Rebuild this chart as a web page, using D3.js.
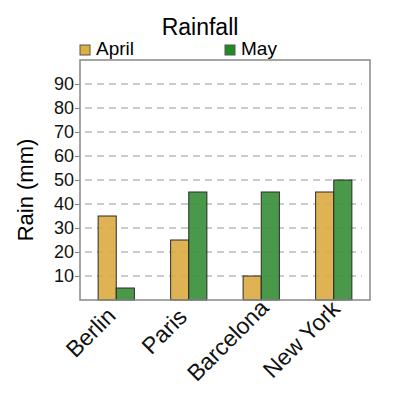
<!DOCTYPE html>
<html>
<head>
<meta charset="utf-8">
<script src="https://cdn.jsdelivr.net/npm/d3@7"></script>
<style>
  body { margin: 0; background: #fff; }
</style>
</head>
<body>
<svg id="chart"></svg>
<script>
const cities = ["Berlin", "Paris", "Barcelona", "New York"];
const months = ["April", "May"];
const april = [35, 25, 10, 45];
const may = [5, 45, 45, 50];
const yTicks = [10, 20, 30, 40, 50, 60, 70, 80, 90];

const legendColors = ["#ddb03f", "#1f8c1f"];
const barColors = ["#dcad44", "#3b8f3b"];

const width = 400, height = 400;
const margin = { top: 60, right: 30, bottom: 100, left: 80 };

const svg = d3.select("#chart")
    .attr("width", width)
    .attr("height", height)
    .style("font-family", "Liberation Sans, Arial, sans-serif");

const x = d3.scaleBand()
    .domain(cities)
    .range([margin.left, width - margin.right])
    .paddingInner(0.5)
    .paddingOuter(0.25);

const xSub = d3.scaleBand()
    .domain(months)
    .range([0, x.bandwidth()]);

const y = d3.scaleLinear()
    .domain([0, 100])
    .range([height - margin.bottom, margin.top]);

// grid
svg.append("g")
    .selectAll("line")
    .data(yTicks)
    .join("line")
    .attr("x1", margin.left + 5)
    .attr("x2", width - margin.right - 8)
    .attr("y1", d => y(d))
    .attr("y2", d => y(d))
    .attr("stroke", "#bbb")
    .attr("stroke-width", 1.5)
    .attr("stroke-dasharray", "7,5");

// bars
const rows = cities.map((c, i) => ({ city: c, values: [april[i], may[i]] }));

svg.append("g")
    .selectAll("g")
    .data(rows)
    .join("g")
    .attr("transform", d => `translate(${x(d.city)},0)`)
    .selectAll("rect")
    .data(d => d.values.map((v, j) => ({ month: months[j], value: v, j })))
    .join("rect")
    .attr("x", d => xSub(d.month))
    .attr("width", xSub.bandwidth())
    .attr("y", d => y(d.value))
    .attr("height", d => y(0) - y(d.value))
    .attr("fill", d => barColors[d.j])
    .attr("fill-opacity", 0.92)
    .attr("stroke", "#2a2a2a")
    .attr("stroke-width", 1);

// frame
svg.append("rect")
    .attr("x", margin.left)
    .attr("y", margin.top)
    .attr("width", width - margin.left - margin.right)
    .attr("height", height - margin.top - margin.bottom)
    .attr("fill", "none")
    .attr("stroke", "#888")
    .attr("stroke-width", 1.5);

// y axis
const yAxis = svg.append("g")
    .attr("transform", `translate(${margin.left},0)`)
    .call(d3.axisLeft(y).tickValues(yTicks).tickSize(5).tickPadding(1));
yAxis.select(".domain").remove();
yAxis.selectAll(".tick line").attr("stroke", "#888");
yAxis.selectAll("text")
    .style("font-size", "18px")
    .attr("fill", "#111");

// x axis labels (rotated, right end near the tick; long labels sit a bit further along)
const xAxis = svg.append("g")
    .attr("transform", `translate(0,${height - margin.bottom})`)
    .call(d3.axisBottom(x).tickSize(0).tickPadding(0));
xAxis.select(".domain").remove();
xAxis.selectAll("text")
    .style("font-size", "23px")
    .attr("fill", "#111")
    .attr("text-anchor", "end")
    .attr("y", 0)
    .attr("dy", 0)
    .attr("transform", "translate(1,17) rotate(-45)")
    .attr("dx", function () {
        const w = this.getComputedTextLength();
        return 0.25 * (w - 60);
    });

// y label
svg.append("text")
    .attr("transform", "translate(33,190) rotate(-90)")
    .attr("text-anchor", "middle")
    .style("font-size", "22px")
    .text("Rain (mm)");

// title
svg.append("text")
    .attr("x", width / 2)
    .attr("y", 35)
    .attr("text-anchor", "middle")
    .style("font-size", "23px")
    .text("Rainfall");

// legend
const legend = svg.append("g")
    .selectAll("g")
    .data(months)
    .join("g")
    .attr("transform", (d, i) => `translate(${80 + i * 145},45)`);

legend.append("rect")
    .attr("width", 10)
    .attr("height", 10)
    .attr("fill", (d, i) => legendColors[i])
    .attr("stroke", "#555")
    .attr("stroke-width", 1);

legend.append("text")
    .attr("x", 16)
    .attr("y", 10)
    .style("font-size", "19px")
    .text(d => d);
</script>
</body>
</html>
